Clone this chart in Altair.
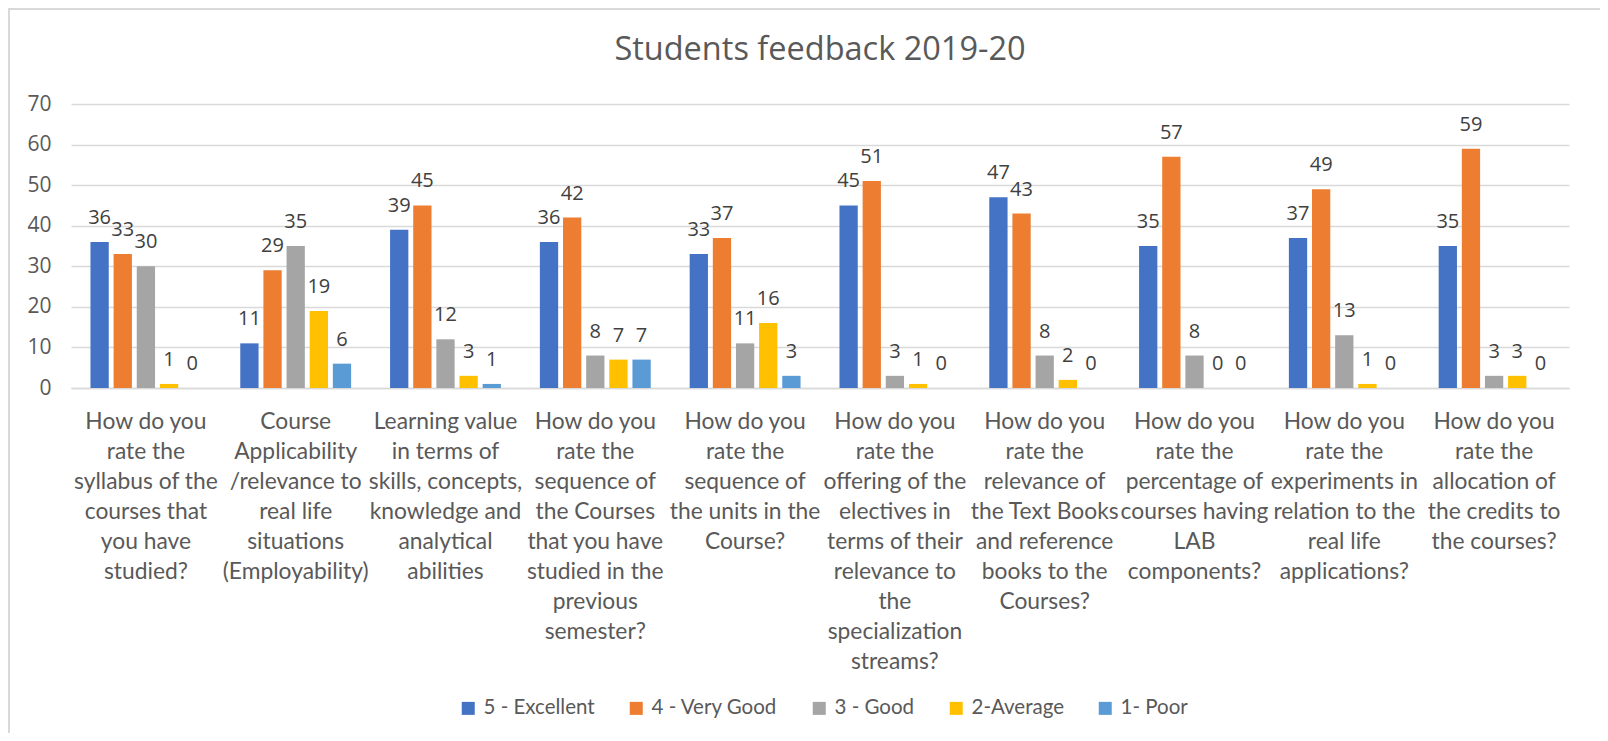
import altair as alt
import pandas as pd

categories = [
    "How do you|rate the|syllabus of the|courses that|you have|studied?",
    "Course|Applicability|/relevance to|real life|situations|(Employability)",
    "Learning value|in terms of|skills, concepts,|knowledge and|analytical|abilities",
    "How do you|rate the|sequence of|the Courses|that you have|studied in the|previous|semester?",
    "How do you|rate the|sequence of|the units in the|Course?",
    "How do you|rate the|offering of the|electives in|terms of their|relevance to|the|specialization|streams?",
    "How do you|rate the|relevance of|the Text Books|and reference|books to the|Courses?",
    "How do you|rate the|percentage of|courses having|LAB|components?",
    "How do you|rate the|experiments in|relation to the|real life|applications?",
    "How do you|rate the|allocation of|the credits to|the courses?",
]
series = ["5 - Excellent", "4 - Very Good", "3 - Good", "2-Average", "1- Poor"]
excellent = [36, 11, 39, 36, 33, 45, 47, 35, 37, 35]
very_good = [33, 29, 45, 42, 37, 51, 43, 57, 49, 59]
good = [30, 35, 12, 8, 11, 3, 8, 8, 13, 3]
average = [1, 19, 3, 7, 16, 1, 2, 0, 1, 3]
poor = [0, 6, 1, 7, 3, 0, 0, 0, 0, 0]
colors = ["#4472C4", "#ED7D31", "#A5A5A5", "#FFC000", "#5B9BD5"]
y_ticks = [0, 10, 20, 30, 40, 50, 60, 70]

rows = []
for s, vals in zip(series, [excellent, very_good, good, average, poor]):
    for c, v in zip(categories, vals):
        rows.append({"cat": c, "series": s, "value": v})
df = pd.DataFrame(rows)

W, H = 1498, 284

base = alt.Chart(df).encode(
    x=alt.X(
        "cat:N",
        sort=categories,
        scale=alt.Scale(paddingInner=0.26, paddingOuter=0.13),
        axis=alt.Axis(
            title=None,
            labelExpr="split(datum.label, '|')",
            labelAngle=0,
            labelFont="Lato",
            labelFontSize=22.8,
            labelColor="#595959",
            labelLineHeight=30,
            labelPadding=22,
            labelBaseline="top",
            labelLimit=260,
            labelOverlap=False,
            ticks=False,
            domainColor="#D9D9D9",
            domainWidth=1.5,
        ),
    ),
    xOffset=alt.XOffset("series:N", sort=series, scale=alt.Scale(paddingInner=0.21)),
    y=alt.Y(
        "value:Q",
        scale=alt.Scale(domain=[0, 70], nice=False),
        axis=alt.Axis(
            title=None,
            values=y_ticks,
            grid=True,
            gridColor="#D9D9D9",
            gridWidth=1.5,
            domain=False,
            ticks=False,
            labelFont="Open Sans",
            labelFontSize=21,
            labelColor="#595959",
            labelPadding=20,
        ),
    ),
)

bars = base.mark_bar().encode(
    color=alt.Color(
        "series:N",
        sort=series,
        scale=alt.Scale(domain=series, range=colors),
        legend=alt.Legend(
            title=None,
            orient="none",
            legendX=387,
            legendY=594,
            direction="horizontal",
            columns=5,
            labelFont="Lato",
            labelFontSize=20.5,
            labelColor="#595959",
            symbolType="square",
            symbolSize=169,
            symbolStrokeWidth=0,
            labelOffset=5,
            columnPadding=31,
        ),
    )
)

labels = base.mark_text(
    font="Open Sans", fontSize=20, color="#404040", baseline="alphabetic", dy=-18
).encode(text="value:Q")

frame_left = alt.Chart(pd.DataFrame({"k": [0]})).mark_rule(color="#D9D9D9", strokeWidth=2).encode(
    x=alt.value(-62), y=alt.value(-96), y2=alt.value(H + 345)
)
frame_top = alt.Chart(pd.DataFrame({"k": [0]})).mark_rule(color="#D9D9D9", strokeWidth=2).encode(
    x=alt.value(-62), x2=alt.value(W + 40), y=alt.value(-95)
)

chart = (
    alt.layer(bars, labels, frame_left, frame_top)
    .properties(
        width=W,
        height=H,
        title=alt.TitleParams(
            "Students feedback 2019-20",
            font="Open Sans",
            fontSize=32.5,
            color="#595959",
            fontWeight="normal",
            anchor="middle",
            offset=30,
            dy=89,
        ),
        autosize=alt.AutoSizeParams(type="none"),
        padding={"left": 63, "top": 96, "right": 31, "bottom": 345},
    )
    .configure_view(stroke=None)
)

chart.save("out.html", embed_options={"renderer": "svg", "actions": False})
